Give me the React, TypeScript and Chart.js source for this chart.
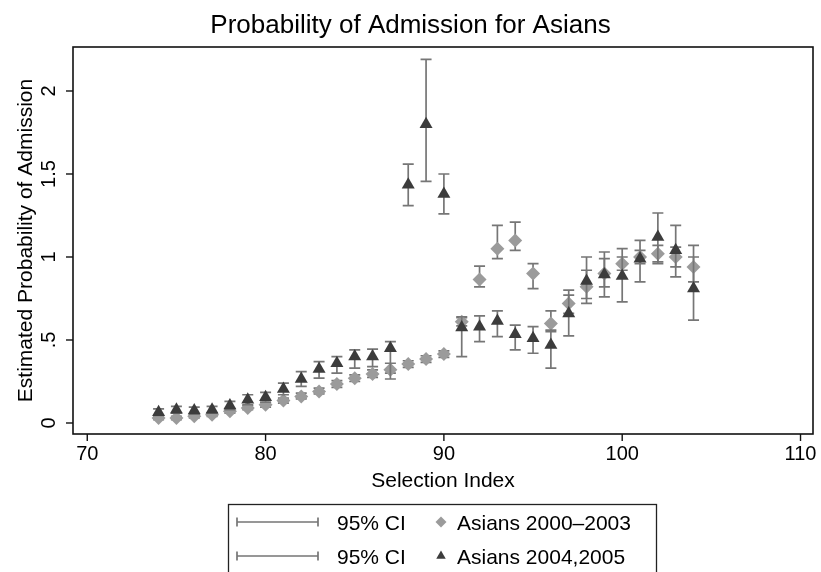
import React, { useEffect, useRef } from 'react';
import { Chart, registerables } from 'chart.js';

Chart.register(...registerables);

// ---------- data ----------
const selIndex = [74, 75, 76, 77, 78, 79, 80, 81, 82, 83, 84, 85, 86, 87, 88, 89, 90, 91, 92, 93, 94, 95, 96, 97, 98, 99, 100, 101, 102, 103, 104];

const est0003 = [0.03, 0.03, 0.04, 0.05, 0.07, 0.09, 0.11, 0.135, 0.16, 0.19, 0.235, 0.27, 0.295, 0.32, 0.355, 0.385, 0.415, 0.61, 0.865, 1.05, 1.1, 0.9, 0.6, 0.72, 0.82, 0.9, 0.96, 1.0, 1.02, 1.0, 0.94];
const lo0003 = [0.02, 0.02, 0.03, 0.04, 0.06, 0.08, 0.095, 0.12, 0.145, 0.175, 0.215, 0.25, 0.275, 0.3, 0.335, 0.365, 0.395, 0.585, 0.82, 0.99, 1.04, 0.81, 0.55, 0.66, 0.75, 0.82, 0.92, 0.96, 0.97, 0.94, 0.85];
const hi0003 = [0.04, 0.04, 0.05, 0.06, 0.085, 0.105, 0.125, 0.15, 0.18, 0.21, 0.255, 0.29, 0.32, 0.36, 0.375, 0.405, 0.435, 0.635, 0.945, 1.19, 1.21, 0.96, 0.675, 0.8, 0.92, 0.99, 1.0, 1.04, 1.07, 1.06, 1.07];

const est0405 = [0.065, 0.08, 0.075, 0.08, 0.105, 0.14, 0.155, 0.205, 0.265, 0.325, 0.36, 0.4, 0.4, 0.45, 1.435, 1.8, 1.38, 0.575, 0.58, 0.615, 0.535, 0.51, 0.47, 0.66, 0.855, 0.895, 0.885, 0.99, 1.12, 1.04, 0.81];
const lo0405 = [0.045, 0.06, 0.055, 0.06, 0.08, 0.11, 0.125, 0.17, 0.22, 0.27, 0.3, 0.33, 0.34, 0.265, 1.31, 1.455, 1.26, 0.4, 0.49, 0.52, 0.44, 0.42, 0.33, 0.525, 0.72, 0.76, 0.73, 0.85, 0.96, 0.88, 0.62];
const hi0405 = [0.085, 0.1, 0.095, 0.1, 0.13, 0.17, 0.185, 0.24, 0.31, 0.37, 0.4, 0.44, 0.445, 0.49, 1.56, 2.19, 1.5, 0.64, 0.645, 0.675, 0.59, 0.58, 0.56, 0.77, 1.0, 1.03, 1.05, 1.1, 1.265, 1.19, 1.0];

const xTicks = [70, 80, 90, 100, 110];
const yTicks = [0, 0.5, 1, 1.5, 2];
const yTickLabels = ['0', '.5', '1', '1.5', '2'];

const titleText = 'Probability of Admission for Asians';
const xTitle = 'Selection Index';
const yTitle = 'Estimated Probability of Admission';
const legendLabels = ['95% CI', 'Asians 2000\u20132003', '95% CI', 'Asians 2004,2005'];

// ---------- styles ----------
const FONT = '"Liberation Sans", Arial, Helvetica, sans-serif';
const DIAMOND = '#9b9b9b';
const TRIANGLE = '#3c3c3c';
const CI_COLOR = '#767676';

const ciByDataset: Record<number, { lo: number[]; hi: number[] }> = {
  0: { lo: lo0405, hi: hi0405 },
  1: { lo: lo0003, hi: hi0003 },
};

function drawCap(ctx: CanvasRenderingContext2D, x: number, y1: number, y2: number, cap: number) {
  ctx.beginPath();
  ctx.moveTo(x, y1);
  ctx.lineTo(x, y2);
  ctx.moveTo(x - cap, y1);
  ctx.lineTo(x + cap, y1);
  ctx.moveTo(x - cap, y2);
  ctx.lineTo(x + cap, y2);
  ctx.stroke();
}

const decor = {
  id: 'decor',
  beforeDatasetDraw(chart: any, args: any) {
    const ci = ciByDataset[args.index];
    if (!ci) return;
    const ctx: CanvasRenderingContext2D = chart.ctx;
    const xs = chart.scales.x;
    const ys = chart.scales.y;
    ctx.save();
    ctx.strokeStyle = CI_COLOR;
    ctx.lineWidth = 1.7;
    for (let i = 0; i < selIndex.length; i++) {
      const x = xs.getPixelForValue(selIndex[i]);
      drawCap(ctx, x, ys.getPixelForValue(ci.lo[i]), ys.getPixelForValue(ci.hi[i]), 5.5);
    }
    ctx.restore();
  },
  afterDraw(chart: any) {
    const ctx: CanvasRenderingContext2D = chart.ctx;
    const a = chart.chartArea;
    const xs = chart.scales.x;
    const ys = chart.scales.y;
    ctx.save();

    // plot region box
    ctx.strokeStyle = '#111';
    ctx.lineWidth = 1.6;
    ctx.strokeRect(a.left, a.top, a.right - a.left, a.bottom - a.top);

    // x ticks
    ctx.fillStyle = '#000';
    ctx.font = `20px ${FONT}`;
    ctx.textAlign = 'center';
    ctx.textBaseline = 'alphabetic';
    ctx.lineWidth = 1.4;
    for (const t of xTicks) {
      const x = xs.getPixelForValue(t);
      ctx.beginPath();
      ctx.moveTo(x, a.bottom);
      ctx.lineTo(x, a.bottom + 7);
      ctx.stroke();
      ctx.fillText(String(t), x, 460);
    }
    // y ticks
    yTicks.forEach((t, i) => {
      const y = ys.getPixelForValue(t);
      ctx.beginPath();
      ctx.moveTo(a.left - 7, y);
      ctx.lineTo(a.left, y);
      ctx.stroke();
      ctx.save();
      ctx.translate(55, y);
      ctx.rotate(-Math.PI / 2);
      ctx.fillText(yTickLabels[i], 0, 0);
      ctx.restore();
    });

    // axis titles
    ctx.font = `21px ${FONT}`;
    ctx.fillText(xTitle, (a.left + a.right) / 2, 487);
    ctx.save();
    ctx.translate(32, (a.top + a.bottom) / 2);
    ctx.rotate(-Math.PI / 2);
    ctx.fillText(yTitle, 0, 0);
    ctx.restore();

    // title
    ctx.font = `26px ${FONT}`;
    ctx.fillText(titleText, chart.width / 2, 33);

    // legend
    const lx = 228.5;
    const lw = 428;
    ctx.strokeStyle = '#222';
    ctx.lineWidth = 1.3;
    ctx.strokeRect(lx, 504.5, lw, 90);
    const rows = [522, 556];
    ctx.font = `21px ${FONT}`;
    ctx.textAlign = 'left';
    rows.forEach((ry, r) => {
      ctx.strokeStyle = CI_COLOR;
      ctx.lineWidth = 1.7;
      ctx.beginPath();
      ctx.moveTo(237, ry);
      ctx.lineTo(318, ry);
      ctx.moveTo(237, ry - 4.5);
      ctx.lineTo(237, ry + 4.5);
      ctx.moveTo(318, ry - 4.5);
      ctx.lineTo(318, ry + 4.5);
      ctx.stroke();
      ctx.fillStyle = '#000';
      ctx.fillText(legendLabels[r * 2], 337, ry + 7.5);
      ctx.fillText(legendLabels[r * 2 + 1], 457, ry + 7.5);
      ctx.beginPath();
      if (r === 0) {
        const s = 5.5;
        ctx.fillStyle = DIAMOND;
        ctx.moveTo(441, ry - s);
        ctx.lineTo(441 + s, ry);
        ctx.lineTo(441, ry + s);
        ctx.lineTo(441 - s, ry);
      } else {
        const s = 5.5;
        ctx.fillStyle = TRIANGLE;
        ctx.moveTo(441, ry - s);
        ctx.lineTo(441 + s * 0.866, ry + s * 0.5);
        ctx.lineTo(441 - s * 0.866, ry + s * 0.5);
      }
      ctx.closePath();
      ctx.fill();
    });

    ctx.restore();
  },
};

export default function App() {
  const ref = useRef<HTMLCanvasElement | null>(null);

  useEffect(() => {
    document.body.style.margin = '0';
    const canvas = ref.current;
    if (!canvas) return;
    const chart = new Chart(canvas, {
      type: 'scatter',
      data: {
        datasets: [
          {
            label: legendLabels[3],
            data: selIndex.map((x, i) => ({ x, y: est0405[i] })),
            pointStyle: 'triangle',
            pointRadius: 7.5,
            backgroundColor: TRIANGLE,
            borderColor: TRIANGLE,
            borderWidth: 0,
            order: 1,
          },
          {
            label: legendLabels[1],
            data: selIndex.map((x, i) => ({ x, y: est0003[i] })),
            pointStyle: 'rectRot',
            pointRadius: 7,
            backgroundColor: DIAMOND,
            borderColor: DIAMOND,
            borderWidth: 0,
            order: 2,
          },
        ],
      },
      options: {
        animation: false,
        responsive: false,
        maintainAspectRatio: false,
        events: [],
        layout: { padding: { left: 73, top: 47, right: 8, bottom: 138 } },
        scales: {
          x: { type: 'linear', min: 69.2, max: 110.7, display: false },
          y: { type: 'linear', min: -0.0663, max: 2.265, display: false },
        },
        plugins: {
          legend: { display: false },
          title: { display: false },
          tooltip: { enabled: false },
        },
      },
      plugins: [decor],
    } as any);
    return () => chart.destroy();
  }, []);

  return (
    <div style={{ width: 821, height: 572, background: '#fff' }}>
      <canvas ref={ref} width={821} height={572} style={{ display: 'block' }} />
    </div>
  );
}
